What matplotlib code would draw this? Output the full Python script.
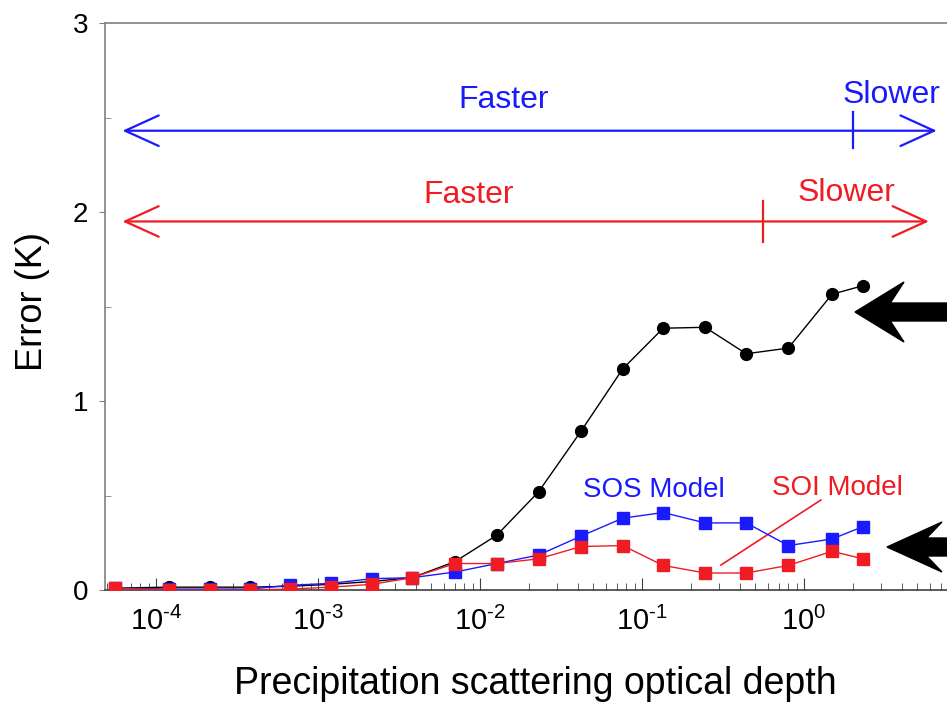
import numpy as np
import matplotlib
matplotlib.use("Agg")
import matplotlib.pyplot as plt
from matplotlib.patches import Polygon
from matplotlib.ticker import LogLocator, MultipleLocator, FuncFormatter, FixedLocator

# Fonts: Arial-like look for text and tick labels
plt.rcParams['font.family'] = ['Liberation Sans', 'DejaVu Sans']
plt.rcParams['mathtext.fontset'] = 'custom'
plt.rcParams['mathtext.rm'] = 'Liberation Sans'
plt.rcParams['mathtext.default'] = 'regular'
plt.rcParams['axes.unicode_minus'] = False

# Precipitation scattering optical depth (x)
tau = [5.6e-5, 1.2e-4, 2.15e-4, 3.8e-4, 6.7e-4, 1.2e-3, 2.15e-3, 3.8e-3, 7.0e-3,
       0.0127, 0.023, 0.042, 0.076, 0.135, 0.245, 0.44, 0.80, 1.49, 2.31]

# Error (K) for each series
err_black = [0.01, 0.015, 0.015, 0.015, 0.02, 0.03, 0.045, 0.065, 0.15,
             0.29, 0.52, 0.84, 1.17, 1.385, 1.39, 1.25, 1.28, 1.565, 1.61]
err_sos = [0.01, 0.005, 0.005, 0.005, 0.025, 0.035, 0.06, 0.065, 0.095,
           0.14, 0.185, 0.285, 0.38, 0.41, 0.355, 0.355, 0.235, 0.27, 0.335]
err_soi = [0.01, 0.0, 0.0, 0.0, 0.005, 0.015, 0.03, 0.065, 0.14,
           0.14, 0.165, 0.23, 0.235, 0.13, 0.09, 0.09, 0.13, 0.205, 0.165]

# labelled decades on the x axis
x_decades = [1e-4, 1e-3, 1e-2, 1e-1, 1e0]

# speed ranges (faster/slower split points)
sos_split = 2.0
soi_split = 0.56

blue = '#1a1aff'
red = '#f01c24'
W, H = 947, 702

fig = plt.figure(figsize=(W / 100, H / 100), dpi=100)
# axes runs a little off the right edge, like the cropped original
ax = fig.add_axes([105 / W, 1 - 590 / H, (966 - 105) / W, (590 - 23) / H])

ax.plot(tau, err_black, '-o', color='black', lw=1, ms=8.5, zorder=3)
ax.plot(tau, err_sos, '-s', color=blue, mec=blue, lw=1, ms=8.5, zorder=4)
ax.plot(tau, err_soi, '-s', color=red, mec=red, lw=1, ms=8.5, zorder=5)

ax.set_xscale('log')
ax.set_xlim(4.84e-5, 10)
ax.set_ylim(0, 3)
ax.set_yticks([0, 1, 2, 3])
ax.yaxis.set_minor_locator(MultipleLocator(0.5))
ax.xaxis.set_major_locator(FixedLocator(x_decades))
ax.xaxis.set_minor_locator(LogLocator(base=10, subs=np.arange(2, 10), numticks=20))
ax.xaxis.set_major_formatter(FuncFormatter(
    lambda v, p: r'$10^{\text{%d}}$' % int(round(np.log10(v)))))

for s in ax.spines.values():
    s.set_color('#808080')
    s.set_linewidth(1.2)
ax.spines['bottom'].set_color('#404040')

ax.tick_params(axis='x', which='both', direction='in', colors='#404040', labelcolor='black',
               labelsize=21, pad=12)
ax.tick_params(axis='x', which='major', length=9)
ax.tick_params(axis='x', which='minor', length=5)
ax.tick_params(axis='y', which='major', direction='out', length=4, colors='#808080',
               labelcolor='black', labelsize=20, pad=8)
ax.tick_params(axis='y', which='minor', direction='in', length=4, colors='#808080')
ax.tick_params(top=False, right=False, which='both')

ax.set_xlabel('Precipitation scattering optical depth', fontsize=27, labelpad=22)
ax.set_ylabel('Error (K)', fontsize=26)
ax.yaxis.set_label_coords(-0.064, 0.508)

# double-headed speed arrows
head = dict(shrinkA=0, shrinkB=0, mutation_scale=22, lw=1.6)
ax.annotate('', xy=(6.6, 2.43), xytext=(6.2e-5, 2.43),
            arrowprops=dict(arrowstyle='<->,head_length=1.1,head_width=0.5', color=blue, **head))
ax.plot([sos_split, sos_split], [2.34, 2.53], color=blue, lw=1.6)
ax.text(0.0139, 2.55, 'Faster', color=blue, fontsize=23, ha='center', va='baseline')
ax.text(3.49, 2.577, 'Slower', color=blue, fontsize=23, ha='center', va='baseline')

ax.annotate('', xy=(5.9, 1.95), xytext=(6.2e-5, 1.95),
            arrowprops=dict(arrowstyle='<->,head_length=1.1,head_width=0.5', color=red, **head))
ax.plot([soi_split, soi_split], [1.84, 2.06], color=red, lw=1.6)
ax.text(0.00855, 2.05, 'Faster', color=red, fontsize=23, ha='center', va='baseline')
ax.text(1.84, 2.06, 'Slower', color=red, fontsize=23, ha='center', va='baseline')

# series labels
ax.text(0.1186, 0.53, 'SOS Model', color=blue, fontsize=20, ha='center', va='center')
ax.text(1.6, 0.54, 'SOI Model', color=red, fontsize=20, ha='center', va='center')
ax.plot([0.307, 1.27], [0.132, 0.476], color=red, lw=1.2)

# big black pointer arrows at the right edge (figure pixels)
def pointer(tip_x, tip_y, head_len, half_w, shaft_half):
    back = tip_x + head_len
    notch = back - head_len * 0.28
    pts = [(tip_x, tip_y), (back, tip_y - half_w), (notch, tip_y - shaft_half),
           (W + 20, tip_y - shaft_half), (W + 20, tip_y + shaft_half),
           (notch, tip_y + shaft_half), (back, tip_y + half_w)]
    pts = [(x / W, 1 - y / H) for x, y in pts]
    fig.patches.append(Polygon(pts, closed=True, color='black', transform=fig.transFigure))

pointer(855, 312, 49, 30, 9)
pointer(887, 547, 55, 25, 9)

fig.savefig('out.png', dpi=100)
